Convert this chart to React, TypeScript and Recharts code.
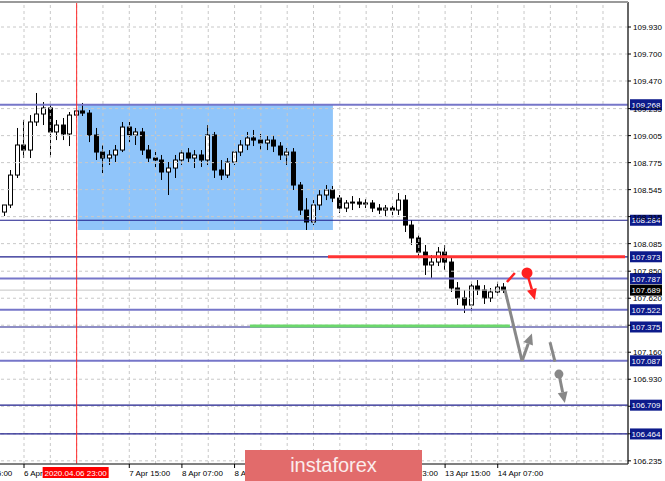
import React from "react";
import {
  ComposedChart,
  Bar,
  XAxis,
  YAxis,
  ReferenceLine,
  ReferenceArea,
  ReferenceDot,
} from "recharts";

// 2-hour candles (time unit on the "t" axis = one hour bar)
const opens = [
  108.354, 108.414, 108.669, 108.925, 108.882, 109.121, 109.189, 109.24, 109.036, 109.095,
  109.019, 109.18, 109.215, 109.197, 109.01, 108.865, 108.814, 108.84, 108.882, 109.078,
  109.01, 109.036, 108.882, 108.814, 108.797, 108.695, 108.729, 108.797, 108.857, 108.814,
  108.84, 108.797, 109.01, 108.712, 108.669, 108.78, 108.865, 108.925, 108.985, 108.967,
  108.942, 108.967, 108.916, 108.84, 108.865, 108.584, 108.371, 108.269, 108.414, 108.499,
  108.542, 108.473, 108.388, 108.431, 108.439, 108.422, 108.431, 108.388, 108.371, 108.388,
  108.371, 108.456, 108.243, 108.133, 108.013, 107.903, 107.928, 108.013, 107.928, 107.707,
  107.622, 107.562, 107.724, 107.69, 107.622, 107.673, 107.715,
];
const highs = [
  108.414, 108.712, 109.07, 109.138, 109.18, 109.368, 109.291, 109.274, 109.138, 109.155,
  109.206, 109.24, 109.283, 109.223, 109.07, 108.925, 108.882, 108.925, 109.121, 109.121,
  109.07, 109.07, 108.925, 108.882, 108.84, 108.78, 108.84, 108.882, 108.899, 108.882,
  108.882, 109.095, 109.036, 108.797, 108.814, 108.882, 108.967, 109.036, 109.053, 109.019,
  109.002, 109.01, 108.95, 108.899, 108.899, 108.61, 108.473, 108.456, 108.542, 108.584,
  108.576, 108.499, 108.456, 108.49, 108.473, 108.465, 108.456, 108.422, 108.414, 108.414,
  108.516, 108.499, 108.286, 108.158, 108.073, 107.988, 108.056, 108.073, 107.962, 107.758,
  107.69, 107.758, 107.775, 107.732, 107.707, 107.758, 107.749,
];
const lows = [
  108.32, 108.388, 108.644, 108.814, 108.814, 109.087, 109.095, 108.823, 108.967, 108.967,
  108.916, 109.155, 109.172, 108.95, 108.797, 108.686, 108.755, 108.78, 108.865, 108.95,
  108.925, 108.84, 108.78, 108.729, 108.627, 108.499, 108.644, 108.755, 108.772, 108.729,
  108.738, 108.755, 108.644, 108.627, 108.644, 108.755, 108.831, 108.882, 108.916, 108.882,
  108.882, 108.865, 108.797, 108.755, 108.542, 108.329, 108.201, 108.243, 108.371, 108.456,
  108.439, 108.346, 108.354, 108.371, 108.388, 108.388, 108.354, 108.337, 108.32, 108.329,
  108.329, 108.184, 108.073, 107.962, 107.818, 107.784, 107.894, 107.86, 107.673, 107.562,
  107.494, 107.502, 107.647, 107.571, 107.588, 107.639, 107.664,
];
const closes = [
  108.414, 108.669, 108.925, 108.882, 109.121, 109.189, 109.24, 109.036, 109.095, 109.019,
  109.18, 109.215, 109.197, 109.01, 108.865, 108.814, 108.84, 108.882, 109.078, 109.01,
  109.036, 108.882, 108.814, 108.797, 108.695, 108.729, 108.797, 108.857, 108.814, 108.84,
  108.797, 109.01, 108.712, 108.669, 108.78, 108.865, 108.925, 108.985, 108.967, 108.942,
  108.967, 108.916, 108.84, 108.865, 108.584, 108.371, 108.269, 108.414, 108.499, 108.542,
  108.473, 108.388, 108.431, 108.439, 108.422, 108.431, 108.388, 108.371, 108.388, 108.371,
  108.456, 108.243, 108.133, 108.013, 107.903, 107.928, 108.013, 107.928, 107.707, 107.622,
  107.562, 107.724, 107.69, 107.622, 107.673, 107.715, 107.689,
];

const SLOTS = 95; // 2-hour slots across the whole plot, future ones stay empty
const FIRST_SLOT_TIME = -6.3; // hour of the first slot's centre on the time axis

// time axis (hour bars), gridline every 8 bars, label every 16
const timeDomain = [-7.3, 183.6];
const gridTimes = [0, 8, 16, 24, 32, 40, 48, 56, 64, 72, 80, 88, 96, 104, 112, 120, 128, 136, 144, 152, 160, 168, 176];
const labelTimes = [-16, 0, 16, 32, 48, 64, 80, 96, 112, 128, 144];
const labelTexts = [
  "5 Apr 15:00", "6 Apr 07:00", "6 Apr 23:00", "7 Apr 15:00", "8 Apr 07:00", "8 Apr 23:00",
  "9 Apr 15:00", "10 Apr 07:00", "12 Apr 23:00", "13 Apr 15:00", "14 Apr 07:00",
];

const priceDomain = [106.208, 110.143];
const priceTicks = [
  109.93, 109.7, 109.47, 109.235, 109.005, 108.775, 108.545, 108.315, 108.085, 107.85,
  107.62, 107.39, 107.16, 106.93, 106.7, 106.465, 106.235,
];

// horizontal levels with their price tags
const levelPrices = [109.268, 108.284, 107.973, 107.787, 107.689, 107.522, 107.375, 107.087, 106.709, 106.464];
const levelKinds = ["light", "dark", "dark", "light", "price", "light", "dark", "light", "dark", "dark"];

// annotations, in (time, price)
const zoneTime = [16.4, 93.9];
const zonePrice = [108.201, 109.268];
const markerTime = 16;
const markerText = "2020.04.06 23:00";
const redLevel = { price: 107.973, from: 92.4, to: 182.7 };
const greenLevel = { price: 107.383, from: 68.7, to: 147.7 };
const redDash = [{ t: 146.8, p: 107.758 }, { t: 149.2, p: 107.835 }];
const redDot = { t: 152.9, p: 107.835 };
const redArrow = [{ t: 152.9, p: 107.835 }, { t: 155.3, p: 107.605 }];
const grayDown = [{ t: 146.2, p: 107.69 }, { t: 151.4, p: 107.085 }];
const grayUp = [{ t: 151.4, p: 107.085 }, { t: 154.4, p: 107.32 }];
const grayDash = [{ t: 159.9, p: 107.245 }, { t: 161.4, p: 107.08 }];
const grayDot = { t: 162.6, p: 106.974 };
const grayArrow = [{ t: 162.6, p: 106.974 }, { t: 164.4, p: 106.727 }];

const FONT = "'Liberation Sans', Arial, sans-serif";

const levelStyle: Record<string, { stroke: string; width: number; tag: string }> = {
  light: { stroke: "#7676c9", width: 2, tag: "#0d1b8b" },
  dark: { stroke: "#1e1e8c", width: 1.2, tag: "#0d1b8b" },
  price: { stroke: "#c4c4c4", width: 1, tag: "#000000" },
};

const data = Array.from({ length: SLOTS }, (_, i) =>
  i < closes.length
    ? { i, t: FIRST_SLOT_TIME + 2 * i, range: [lows[i], highs[i]], o: opens[i], h: highs[i], l: lows[i], c: closes[i] }
    : { i, t: FIRST_SLOT_TIME + 2 * i, range: null }
);

function Candle(props: any) {
  const { x, y, width, height, payload } = props;
  if (!payload || payload.h == null) return <g />;
  const top = Math.min(y, y + height);
  const span = Math.abs(height);
  const k = payload.h - payload.l > 0 ? span / (payload.h - payload.l) : 0;
  const cx = Math.round(x + width / 2) + 0.5;
  const bodyTop = top + (payload.h - Math.max(payload.o, payload.c)) * k;
  const bodyBot = top + (payload.h - Math.min(payload.o, payload.c)) * k;
  const up = payload.c >= payload.o;
  return (
    <g>
      <line x1={cx} x2={cx} y1={top} y2={top + span} stroke="#000" strokeWidth={1} />
      <rect
        x={cx - 2}
        y={bodyTop}
        width={4}
        height={Math.max(1, bodyBot - bodyTop)}
        fill={up ? "#fff" : "#000"}
        stroke="#000"
        strokeWidth={1}
      />
    </g>
  );
}

function PriceTick(props: any) {
  const { x, y, payload } = props;
  const v = Number(payload.value);
  const covered = levelPrices.some((p) => Math.abs(p - v) < 0.02);
  return (
    <g>
      <line x1={x} x2={x + 3} y1={y} y2={y} stroke="#000" />
      {!covered && (
        <text x={x + 5} y={y + 3} fontSize={8} fill="#000" fontFamily={FONT}>
          {v.toFixed(3)}
        </text>
      )}
    </g>
  );
}

function TimeTick(props: any) {
  const { x, y, payload } = props;
  const idx = labelTimes.indexOf(payload.value);
  if (idx < 0) return <g />;
  if (payload.value === markerTime) {
    // crosshair date box sits over the regular label
    return (
      <g>
        <rect x={x - 34} y={y + 3} width={66} height={11} fill="#ff0000" />
        <text x={x - 1} y={y + 12} fontSize={8} fill="#fff" textAnchor="middle" fontFamily={FONT}>
          {markerText}
        </text>
      </g>
    );
  }
  return (
    <g>
      <line x1={x} x2={x} y1={y} y2={y + 4} stroke="#000" />
      <text x={x} y={y + 12} fontSize={8} fill="#000" fontFamily={FONT}>
        {labelTexts[idx]}
      </text>
    </g>
  );
}

function arrowShape(color: string, width: number, head: boolean) {
  return (p: any) => {
    const { x1, y1, x2, y2 } = p;
    const ang = Math.atan2(y2 - y1, x2 - x1);
    const L = head ? 11 : 0;
    const W = 5;
    const bx = x2 - L * Math.cos(ang);
    const by = y2 - L * Math.sin(ang);
    const nx = -Math.sin(ang) * W;
    const ny = Math.cos(ang) * W;
    return (
      <g>
        <line x1={x1} y1={y1} x2={bx} y2={by} stroke={color} strokeWidth={width} />
        {head && (
          <polygon points={`${x2},${y2} ${bx + nx},${by + ny} ${bx - nx},${by - ny}`} fill={color} />
        )}
      </g>
    );
  };
}

function tagLabel(price: number, fill: string) {
  return (p: any) => {
    const vb = p.viewBox;
    const x = vb.x + vb.width + 2;
    return (
      <g>
        <rect x={x} y={vb.y - 5.5} width={32} height={11} fill={fill} />
        <text x={x + 16} y={vb.y + 3} fontSize={8} fill="#fff" textAnchor="middle" fontFamily={FONT}>
          {price.toFixed(3)}
        </text>
      </g>
    );
  };
}

export default function App() {
  return (
    <div style={{ position: "absolute", left: 0, top: 0, width: 665, height: 481, background: "#fff", overflow: "hidden" }}>
      <ComposedChart width={665} height={481} data={data} margin={{ top: 2, right: 0, bottom: 0, left: 0 }}>
        <XAxis
          xAxisId="t"
          dataKey="t"
          type="number"
          domain={timeDomain}
          allowDataOverflow
          ticks={labelTimes}
          interval={0}
          height={17}
          tickSize={0}
          tickMargin={0}
          tick={<TimeTick />}
          axisLine={{ stroke: "#555", strokeWidth: 1.5 }}
        />
        <XAxis xAxisId="c" dataKey="i" type="category" hide height={0} padding={{ left: 0, right: 3 }} />
        <YAxis
          orientation="right"
          width={37}
          domain={priceDomain}
          allowDataOverflow
          ticks={priceTicks}
          interval={0}
          tickSize={0}
          tickMargin={0}
          tick={<PriceTick />}
          axisLine={{ stroke: "#333", strokeWidth: 1.5 }}
        />
        {priceTicks.map((v) => (
          <ReferenceLine key={"gy" + v} xAxisId="t" y={v} stroke="#c8c8c8" strokeDasharray="3 3" />
        ))}
        {gridTimes.map((t) => (
          <ReferenceLine key={"gx" + t} xAxisId="t" x={t} stroke="#c8c8c8" strokeDasharray="3 3" />
        ))}
        <ReferenceArea
          xAxisId="t"
          x1={zoneTime[0]}
          x2={zoneTime[1]}
          y1={zonePrice[0]}
          y2={zonePrice[1]}
          fill="#90c5fa"
          fillOpacity={1}
          stroke="none"
        />
        {levelPrices.map((p, i) => {
          const s = levelStyle[levelKinds[i]];
          return (
            <ReferenceLine
              key={p}
              xAxisId="t"
              y={p}
              stroke={s.stroke}
              strokeWidth={s.width}
              label={tagLabel(p, s.tag)}
            />
          );
        })}
        <ReferenceLine xAxisId="t" x={markerTime} stroke="#ff2a2a" strokeWidth={1} />
        <ReferenceLine
          xAxisId="t"
          segment={[{ x: redLevel.from, y: redLevel.price }, { x: redLevel.to, y: redLevel.price }]}
          stroke="#ff3333"
          strokeWidth={3}
        />
        <ReferenceLine
          xAxisId="t"
          segment={[{ x: greenLevel.from, y: greenLevel.price }, { x: greenLevel.to, y: greenLevel.price }]}
          stroke="#6bd86b"
          strokeWidth={3}
        />
        <Bar xAxisId="c" dataKey="range" shape={Candle} barSize={5} isAnimationActive={false} />
        <ReferenceLine
          xAxisId="t"
          segment={[{ x: redDash[0].t, y: redDash[0].p }, { x: redDash[1].t, y: redDash[1].p }]}
          shape={arrowShape("#ff2020", 2.5, false)}
        />
        <ReferenceLine
          xAxisId="t"
          segment={[{ x: redArrow[0].t, y: redArrow[0].p }, { x: redArrow[1].t, y: redArrow[1].p }]}
          shape={arrowShape("#ff2020", 2.5, true)}
        />
        <ReferenceDot xAxisId="t" x={redDot.t} y={redDot.p} r={5.5} fill="#ff2020" stroke="none" />
        <ReferenceLine
          xAxisId="t"
          segment={[{ x: grayDown[0].t, y: grayDown[0].p }, { x: grayDown[1].t, y: grayDown[1].p }]}
          shape={arrowShape("#888", 3, false)}
        />
        <ReferenceLine
          xAxisId="t"
          segment={[{ x: grayUp[0].t, y: grayUp[0].p }, { x: grayUp[1].t, y: grayUp[1].p }]}
          shape={arrowShape("#888", 3, true)}
        />
        <ReferenceLine
          xAxisId="t"
          segment={[{ x: grayDash[0].t, y: grayDash[0].p }, { x: grayDash[1].t, y: grayDash[1].p }]}
          shape={arrowShape("#888", 3, false)}
        />
        <ReferenceLine
          xAxisId="t"
          segment={[{ x: grayArrow[0].t, y: grayArrow[0].p }, { x: grayArrow[1].t, y: grayArrow[1].p }]}
          shape={arrowShape("#888", 3, true)}
        />
        <ReferenceDot xAxisId="t" x={grayDot.t} y={grayDot.p} r={4.5} fill="#888" stroke="none" />
      </ComposedChart>
      <div style={{ position: "absolute", left: 0, top: 1, width: 628, height: 2, background: "#9a9a9a" }} />
      <div
        style={{
          position: "absolute",
          left: 245,
          top: 450,
          width: 177,
          height: 31,
          background: "#e26b6b",
          color: "#fbecec",
          fontFamily: FONT,
          fontSize: 20,
          lineHeight: "31px",
          textAlign: "center",
        }}
      >
        instaforex
      </div>
    </div>
  );
}
